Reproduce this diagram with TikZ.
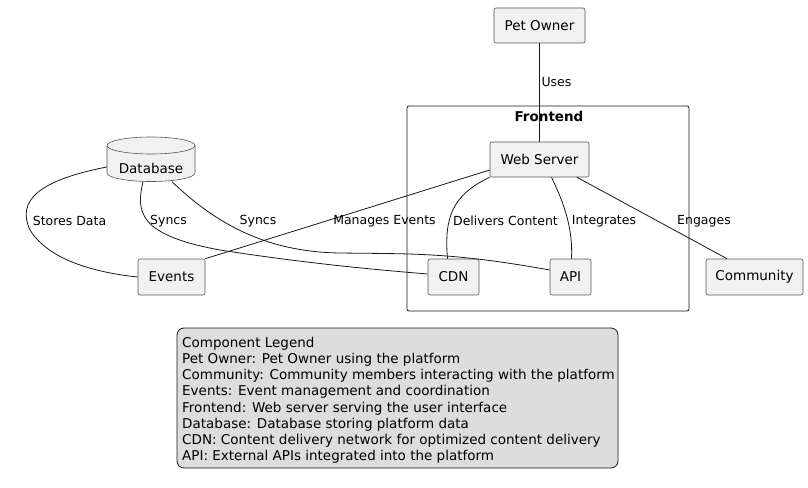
\documentclass[tikz,border=0pt]{standalone}
\usepackage{fontspec}
\setmainfont{DejaVu Sans}
\definecolor{nodefill}{HTML}{F1F1F1}
\definecolor{nodeline}{HTML}{555555}
\definecolor{legfill}{HTML}{DDDDDD}
\definecolor{edgecol}{HTML}{181818}
\begin{document}
\begin{tikzpicture}[x=1pt,y=-1pt,
  box/.style={draw=nodeline,fill=nodefill,line width=0.6pt,rounded corners=2pt,inner sep=0pt,font=\fontsize{13.5}{16}\selectfont},
  lbl/.style={font=\fontsize{12.5}{15}\selectfont,inner sep=0pt},
  edge/.style={draw=edgecol,line width=0.8pt}]
\useasboundingbox (0,0) rectangle (808,487);
% Frontend cluster
\draw[edgecol,line width=0.8pt,rounded corners=2pt] (407,106) rectangle (689,311);
\node[font=\fontsize{13.5}{16}\selectfont\bfseries,inner sep=0pt] (fe) at (549,116) {Frontend};
% nodes
\node[box,minimum width=91,minimum height=35] (po) at (539.5,25.5) {Pet Owner};
\node[box,minimum width=99,minimum height=35] (ws) at (539.5,159.5) {Web Server};
\node[box,minimum width=51,minimum height=36] (cdn) at (453.5,277) {CDN};
\node[box,minimum width=41,minimum height=36] (api) at (570.5,277) {API};
\node[box,minimum width=97,minimum height=36] (com) at (754.5,277) {Community};
\node[box,minimum width=67,minimum height=36] (ev) at (171.5,277) {Events};
% database cylinder
\node[minimum width=88,minimum height=44,inner sep=0pt] (db) at (151,159.5) {};
\draw[nodeline,fill=nodefill,line width=0.6pt] (107,145.5) -- (107,173) arc[start angle=180,end angle=0,x radius=44,y radius=8.5] -- (195,145.5) arc[start angle=0,end angle=-180,x radius=44,y radius=8.5] -- cycle;
\draw[nodeline,line width=0.6pt] (107,145.5) arc[start angle=180,end angle=0,x radius=44,y radius=8.5];
\node[font=\fontsize{13.5}{16}\selectfont,inner sep=0pt] (dbt) at (151,168.5) {Database};
% edges
\draw[edge] (po) -- (ws);
\draw[edge] ([yshift=-10.5pt]ws.west) -- (ev.north east);
\draw[edge] (ws.south west) .. controls (452,195) and (444,218) .. ([xshift=-6pt]cdn.north);
\draw[edge] ([xshift=12pt]ws.south) .. controls (565,205) and (573,230) .. ([xshift=1pt]api.north);
\draw[edge] ([xshift=37.5pt]ws.south) -- ([xshift=-27.5pt]com.north);
\draw[edge] ([yshift=-7.5pt]db.west) .. controls (40,180) and (16,200) .. (30,230) .. controls (50,262) and (100,273) .. (ev.west);
\draw[edge] ([xshift=-8pt]db.south) .. controls (136,212) and (138,235) .. (220,250) .. controls (310,264) and (380,270) .. ([yshift=3pt]cdn.west);
\draw[edge] ([xshift=21pt]db.south) .. controls (210,218) and (260,252) .. (340,253) .. controls (410,254) and (450,252) .. ([yshift=7pt]api.west);
% edge labels
\node[lbl] (l1) at (556.5,82) {Uses};
\node[lbl] (l2) at (384.5,221) {Manages Events};
\node[lbl] (l3) at (505.5,221) {Delivers Content};
\node[lbl] (l4) at (604,221) {Integrates};
\node[lbl] (l5) at (704,221) {Engages};
\node[lbl] (l6) at (69.5,221) {Stores Data};
\node[lbl] (l7) at (168.5,221) {Syncs};
\node[lbl] (l8) at (258,221) {Syncs};
% legend
\draw[edgecol,fill=legfill,line width=0.8pt,rounded corners=7pt] (177,328) rectangle (618,468);
\node[anchor=north west,align=left,inner sep=0pt,font=\fontsize{13.5}{16.15}\selectfont] (leg) at (182,337) {Component Legend\\
Pet Owner: Pet Owner using the platform\\
Community: Community members interacting with the platform\\
Events: Event management and coordination\\
Frontend: Web server serving the user interface\\
Database: Database storing platform data\\
CDN: Content delivery network for optimized content delivery\\
API: External APIs integrated into the platform};
\end{tikzpicture}
\end{document}
